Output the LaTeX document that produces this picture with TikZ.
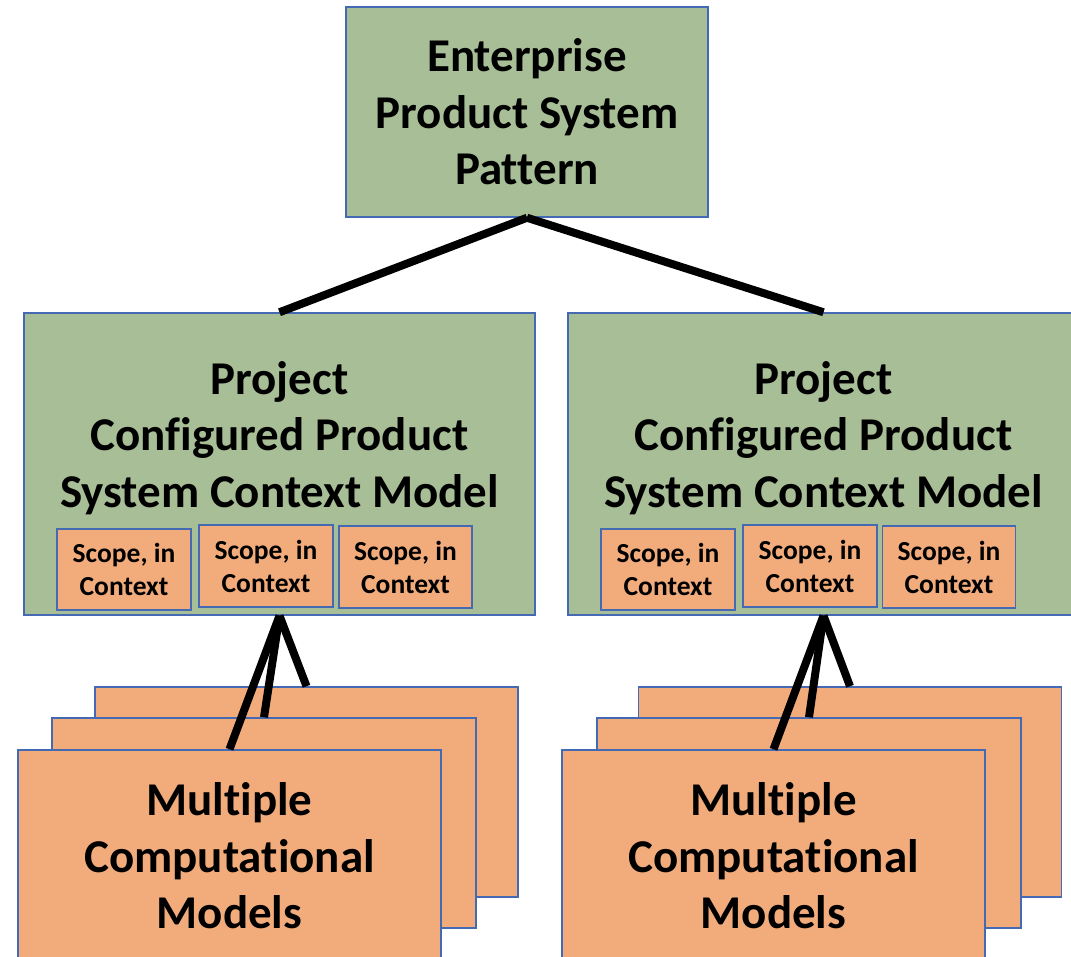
\documentclass[tikz,border=0pt]{standalone}
\usepackage{fontspec}
\setmainfont{Carlito}[Ligatures=NoCommon]
\definecolor{boxgreen}{RGB}{168,190,150}
\definecolor{boxorange}{RGB}{242,172,124}
\definecolor{boxblue}{RGB}{68,106,180}
\begin{document}
\begin{tikzpicture}[x=1pt, y=-1pt,
	greenbox/.style={rectangle, draw=boxblue, line width=1.5pt, fill=boxgreen, inner sep=0pt},
	orangebox/.style={rectangle, draw=boxblue, line width=1.5pt, fill=boxorange, inner sep=0pt},
	bigtext/.style={align=center, inner sep=0pt, font=\bfseries\fontsize{47}{56.5}\selectfont},
	scopetext/.style={align=center, font=\bfseries\fontsize{27.5}{33}\selectfont},
	link/.style={line width=8pt}]
		\useasboundingbox (0,0) rectangle (1071,956);
		\clip (0,0) rectangle (1071,956);
		
		\node (pattern) [greenbox, bigtext, minimum width=362pt, minimum height=210pt] at (527,112) {Enterprise\\Product System\\Pattern};
		
		% left project
		\node (projleft) [greenbox, minimum width=511pt, minimum height=302pt] at (279.5,464) {};
		\node (titleleft) [bigtext] at (279.5,438) {Project\\Configured Product\\System Context Model};
		\node (scopelefta) [orangebox, scopetext, minimum width=134pt, minimum height=81pt] at (124,569.5) {Scope, in\\Context};
		\node (scopeleftb) [orangebox, scopetext, minimum width=134pt, minimum height=82pt] at (266,566) {Scope, in\\Context};
		\node (scopeleftc) [orangebox, scopetext, minimum width=133pt, minimum height=82pt] at (405.5,567) {Scope, in\\Context};
		
		% right project
		\node (projright) [greenbox, minimum width=511pt, minimum height=302pt] at (823.5,464) {};
		\node (titleright) [bigtext] at (823.5,438) {Project\\Configured Product\\System Context Model};
		\node (scoperighta) [orangebox, scopetext, minimum width=134pt, minimum height=81pt] at (668,569.5) {Scope, in\\Context};
		\node (scoperightb) [orangebox, scopetext, minimum width=134pt, minimum height=82pt] at (810,566) {Scope, in\\Context};
		\node (scoperightc) [orangebox, scopetext, minimum width=133pt, minimum height=82pt] at (949,567) {Scope, in\\Context};
		
		% computational model stacks
		\node (modleftc) [orangebox, minimum width=423pt, minimum height=210pt] at (306.5,792) {};
		\node (modleftb) [orangebox, minimum width=424pt, minimum height=210pt] at (264,823) {};
		\node (modlefta) [orangebox, bigtext, minimum width=423pt, minimum height=212pt] at (229.5,856) {Multiple\\Computational\\Models};
		
		\node (modrightc) [orangebox, minimum width=423pt, minimum height=210pt] at (850,792) {};
		\node (modrightb) [orangebox, minimum width=424pt, minimum height=210pt] at (809,823) {};
		\node (modrighta) [orangebox, bigtext, minimum width=423pt, minimum height=212pt] at (773.5,856) {Multiple\\Computational\\Models};
		
		\draw [link] (pattern.south) -- (projleft.north);
		\draw [link] (pattern.south) -- (projright.north);
		\draw [link] (projleft.south) -- (modlefta.north);
		\draw [link] (projleft.south) -- (modleftb.north);
		\draw [link] (projleft.south) -- (modleftc.north);
		\draw [link] (projright.south) -- (modrighta.north);
		\draw [link] (projright.south) -- (modrightb.north);
		\draw [link] (projright.south) -- (modrightc.north);
		
		\end{tikzpicture}
\end{document}
